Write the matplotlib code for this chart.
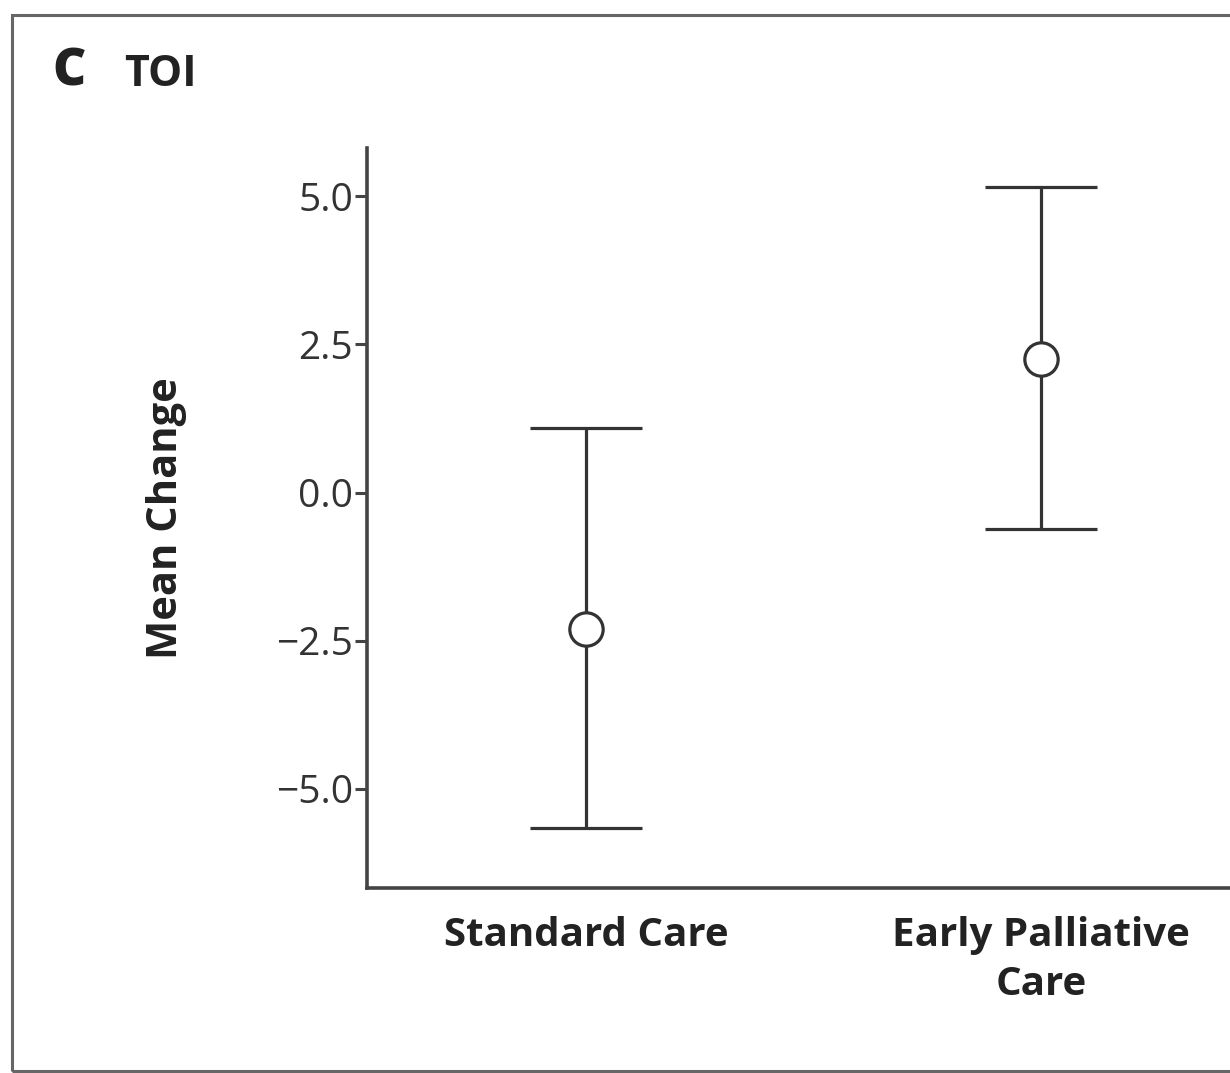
import matplotlib; matplotlib.use("Agg")
import matplotlib.pyplot as plt
from matplotlib.patches import Rectangle

# ---- data ----
groups = ["Standard Care", "Early Palliative\nCare"]
means = [-2.3, 2.25]
upper = [1.08, 5.15]
lower = [-5.66, -0.62]
yticks = [-5.0, -2.5, 0.0, 2.5, 5.0]

W, H = 1230, 1073
fig = plt.figure(figsize=(W/100, H/100), dpi=100)
fam = ["Liberation Sans Narrow", "Open Sans", "DejaVu Sans"]
ink = "#333333"

# outer panel frame (right edge cut off in the reference)
fig.patches.append(Rectangle((12/W, 1-1071/H), 1.5, (1071-15)/H, transform=fig.transFigure,
                             fill=False, edgecolor="#666666", lw=2.2, zorder=0))

ax = fig.add_axes([367/W, 1-888/H, 1-367/W + 0.01, (888-148)/H])
x = list(range(len(groups)))
yerr = [[m-l for m,l in zip(means,lower)], [u-m for m,u in zip(means,upper)]]
ax.errorbar(x, means, yerr=yerr, fmt="o", mfc="white", mec=ink, mew=2.3, ms=24,
            ecolor=ink, elinewidth=2.3, capsize=40, capthick=2.5, color=ink, zorder=3)
ax.set_xlim(-0.481, 1.415 + 0.01*W/455)
ax.set_ylim(-6.67, 5.81)
for s in ["top", "right"]: ax.spines[s].set_visible(False)
for s in ["left", "bottom"]:
    ax.spines[s].set_color("#444444"); ax.spines[s].set_linewidth(2.6)
ax.set_yticks(yticks)
ax.set_yticklabels([f"{t:.1f}".replace("-", "\u2212") for t in yticks], family=fam, fontsize=28, color=ink)
ax.tick_params(axis="y", length=9, width=2.2, color="#444444", pad=1)
ax.set_xticks(x)
ax.set_xticklabels(groups, family=fam, fontsize=29, fontweight="bold", color="#222222", linespacing=1.35, va="top")
ax.tick_params(axis="x", length=0, pad=20)
ax.set_ylabel("Mean Change", family=fam, fontsize=30, fontweight="bold", color="#222222", labelpad=64)

fig.text(52/W, 1-72/H, "C", family=fam, fontsize=37, fontweight="heavy", color="#222222", va="center", ha="left")
fig.text(124/W, 1-74/H, "TOI", family=fam, fontsize=31, fontweight="bold", color="#222222", va="center", ha="left")

fig.savefig("out.png", dpi=100)
